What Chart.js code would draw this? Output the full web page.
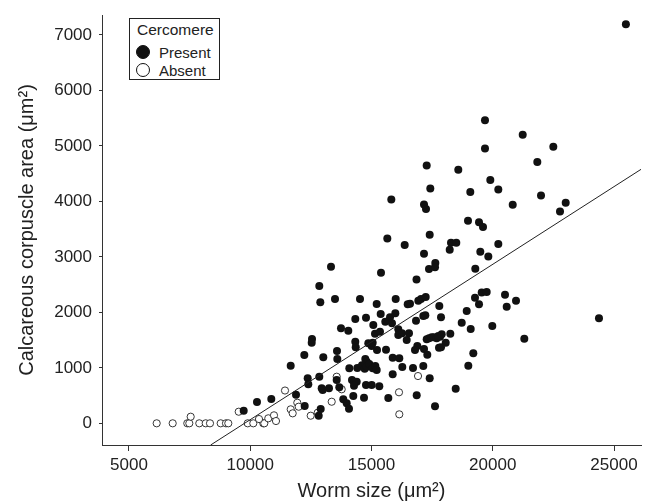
<!DOCTYPE html>
<html>
<head>
<meta charset="utf-8">
<script src="https://cdn.jsdelivr.net/npm/chart.js@4.4.1/dist/chart.umd.min.js"></script>
<style>
  html, body { margin: 0; padding: 0; background: #fff; }
  #wrap { position: relative; width: 657px; height: 503px; }
  #legend {
    position: absolute; left: 129px; top: 18px; width: 91px; height: 62px;
    box-sizing: border-box; border: 1px solid #222; background: #fff;
    font: 15px "Liberation Sans", Arial, sans-serif; color: #222;
  }
  #legend .title { position: absolute; left: 7px; top: 2px; font-size: 15.5px; }
  #legend .row { position: absolute; left: 6px; height: 17px; line-height: 17px; }
  #legend .dot { position: absolute; left: 0; top: 1px; width: 14px; height: 14px; border-radius: 50%; box-sizing: border-box; }
  #legend .lab { position: absolute; left: 23px; top: 0; white-space: nowrap; }
</style>
</head>
<body>
<div id="wrap">
  <canvas id="chart" width="657" height="503"></canvas>
  <div id="legend"></div>
</div>
<script>
// axis setup
const xTicks = [5000, 10000, 15000, 20000, 25000];
const yTicks = [0, 1000, 2000, 3000, 4000, 5000, 6000, 7000];
const xRange = [3887, 26113];
const yRange = [-391, 7360];

// worms with a cercomere
const presentX = [19680, 21235, 19680, 22497, 21837, 17276, 18579, 19899, 17425, 20229, 19074, 15817, 21990, 17165, 17247, 20823,
  23008, 22773, 18979, 19433, 19598, 17400, 15652, 16369, 18278, 18497, 18225, 20229, 17165, 19487, 19817, 17631, 17371, 17619,
  19280, 13330, 15392, 16856, 25490, 24380, 12847, 12889, 13495, 14526, 15214, 15998, 16493, 16588, 16930, 17041, 17235, 17796,
  19268, 15379, 15763, 15982, 14332, 14773, 15569, 15845, 13742, 14043, 15074, 15144, 15350, 16105, 16105, 16258, 16452, 16546,
  16835, 17136, 17219, 16889, 16794, 17165, 17301, 17276, 17371, 17482, 17577, 17689, 17825, 17755, 17866, 17783, 18250, 18720,
  18926, 19091, 19198, 18992, 12546, 12534, 13577, 14332, 14349, 14868, 15008, 15049, 15227, 15598, 12229, 13012, 13590, 11668,
  14085, 14414, 14744, 14802, 14608, 14720, 14802, 14909, 15049, 15157, 15214, 15874, 16146, 16270, 15874, 16711, 17136, 17400,
  12369, 12394, 12847, 12946, 12988, 13247, 13565, 13672, 14196, 14278, 14390, 14278, 14773, 15008, 15322, 13837, 13977, 14072,
  14249, 14691, 15693, 16864, 18472, 17619, 11887, 12245, 12905, 12823, 19544, 19751, 20505, 20959, 20575, 19433, 19981, 17895,
  18060, 17866, 21301, 9730, 10278, 10868];
const presentY = [5465, 5200, 4955, 4984, 4708, 4649, 4569, 4384, 4234, 4216, 4168, 4036, 4108, 3946, 3861, 3939,
  3975, 3820, 3650, 3622, 3537, 3398, 3333, 3213, 3254, 3254, 3128, 3231, 3056, 3092, 3009, 2888, 2780, 2811,
  2786, 2822, 2713, 2591, 7195, 1892, 2474, 2180, 2240, 2240, 2150, 2240, 2144, 2155, 2209, 2240, 2276, 2114,
  2263, 1969, 1910, 1982, 1879, 1903, 1831, 1802, 1712, 1668, 1771, 1614, 1650, 1694, 1591, 1622, 1501, 1622,
  1849, 1933, 1946, 1393, 1321, 1339, 1236, 1514, 1532, 1550, 1550, 1532, 1560, 1573, 1910, 1362, 1614, 1813,
  2023, 1699, 1261, 1038, 1519, 1452, 1303, 1470, 1369, 1441, 1393, 1452, 1321, 1326, 1231, 1189, 1159, 1038,
  991, 996, 1159, 1110, 1045, 984, 1020, 1068, 991, 1032, 960, 1182, 1171, 1014, 883, 996, 1032, 811,
  811, 703, 840, 631, 600, 631, 780, 649, 780, 739, 750, 677, 690, 690, 667, 432, 360, 263,
  492, 461, 456, 505, 623, 306, 515, 312, 258, 137, 2360, 2366, 2317, 2209, 2101, 2144, 1753, 1604,
  1452, 1369, 1524, 227, 384, 438];

// worms without a cercomere
const absentX = [6142, 6802, 7404, 7487, 7899, 8163, 8340, 8781, 9000, 9095, 9895, 10126, 10538, 10579,
  7544, 9524, 10361, 10744, 10979, 11062, 11433, 11668, 11750, 11940, 11998, 12493, 12781, 13359, 13565,
  13771, 16134, 16146, 16918];
const absentY = [0, 0, 0, 0, 0, 0, 0, 0, 0, 0, 0, 0, 0, 0,
  119, 209, 77, 90, 144, 41, 591, 252, 180, 371, 299, 137, 191, 389, 840,
  613, 559, 162, 852];

// least squares line
const fitIntercept = -2734;
const fitSlope = 0.28;

const legendTitle = 'Cercomere';
const seriesNames = ['Present', 'Absent'];
const xTitle = 'Worm size (\u03bcm\u00b2)';
const yTitle = 'Calcareous corpuscle area (\u03bcm\u00b2)';

const ink = '#222';
const pts = (xs, ys) => xs.map((x, i) => ({ x: x, y: ys[i] }));
const fitAt = x => fitIntercept + fitSlope * x;
const fitStart = (yRange[0] - fitIntercept) / fitSlope;
const fitLine = [fitStart, xRange[1]].map(x => ({ x: x, y: fitAt(x) }));

const tickFont = { family: '"Liberation Sans", Arial, sans-serif', size: 17 };
const titleFont = { family: '"Liberation Sans", Arial, sans-serif', size: 20 };

new Chart(document.getElementById('chart'), {
    type: 'scatter',
    data: {
        datasets: [
            {
                label: seriesNames[1], data: pts(absentX, absentY), order: 2,
                pointRadius: 3.6, pointBackgroundColor: '#fff', pointBorderColor: ink, pointBorderWidth: 0.9
            },
            {
                label: seriesNames[0], data: pts(presentX, presentY), order: 1,
                pointRadius: 4, pointBackgroundColor: '#111', pointBorderColor: '#111', pointBorderWidth: 0
            },
            {
                type: 'line', label: 'fit', data: fitLine, order: 0,
                borderColor: ink, borderWidth: 1, pointRadius: 0, fill: false
            }
        ]
    },
    options: {
        responsive: false,
        animation: false,
        devicePixelRatio: 1,
        layout: { padding: { left: 0, top: 15, right: 16, bottom: 0 } },
        plugins: { legend: { display: false }, tooltip: { enabled: false } },
        scales: {
            x: {
                type: 'linear', min: xRange[0], max: xRange[1],
                afterBuildTicks: s => { s.ticks = xTicks.map(v => ({ value: v })); },
                afterFit: s => { s.height = 58; s.paddingLeft = 0; s.paddingRight = 0; },
                grid: { drawOnChartArea: false, drawTicks: true, tickLength: 6, color: '#333' },
                border: { display: true, color: '#333', width: 1 },
                ticks: { color: ink, font: tickFont, padding: 4, maxRotation: 0, callback: v => String(v) },
                title: { display: true, text: xTitle, color: ink, font: titleFont, padding: { top: 0, bottom: 0 } }
            },
            y: {
                type: 'linear', min: yRange[0], max: yRange[1],
                afterBuildTicks: s => { s.ticks = yTicks.map(v => ({ value: v })); },
                afterFit: s => { s.width = 102; s.paddingTop = 0; s.paddingBottom = 0; },
                grid: { drawOnChartArea: false, drawTicks: true, tickLength: 3, color: '#333' },
                border: { display: true, color: '#333', width: 1 },
                ticks: { color: ink, font: tickFont, padding: 7, callback: v => String(v) },
                title: { display: true, text: yTitle, color: ink, font: titleFont, padding: { top: 15, bottom: 0 } }
            }
        }
    }
});

// legend box in the top left corner of the plot
const legend = document.getElementById('legend');
legend.innerHTML = '<div class="title">' + legendTitle + '</div>';
const fills = ['#111', '#fff'];
seriesNames.forEach((name, i) => {
    const row = document.createElement('div');
    row.className = 'row';
    row.style.top = (25 + i * 17.5) + 'px';
    row.innerHTML = '<span class="dot" style="background:' + fills[i] + ';border:1px solid #111"></span>' +
        '<span class="lab">' + name + '</span>';
    legend.appendChild(row);
});
</script>
</body>
</html>
